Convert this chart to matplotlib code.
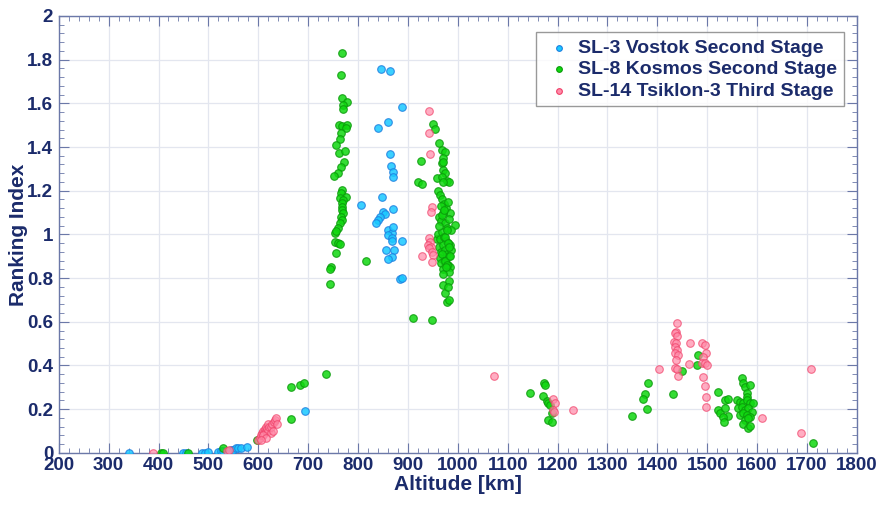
import numpy as np
import matplotlib.pyplot as plt
from matplotlib.ticker import MultipleLocator

# altitude [km], ranking index
vostok_alt = [340, 449, 455, 487, 493, 500, 519, 525, 530, 540, 545, 550, 555, 560, 565, 577, 693,
              846, 864, 888, 860, 840, 864, 866, 870, 870, 806, 848, 870, 850, 854, 844, 840, 836,
              860, 868, 860, 870, 868, 868, 888, 856, 872, 868, 860, 884, 888]
vostok_rank = [0.0, 0.0, 0.0, 0.0, 0.0, 0.005, 0.005, 0.01, 0.01, 0.01, 0.012, 0.015, 0.02, 0.02, 0.02, 0.025, 0.19,
               1.757, 1.748, 1.583, 1.515, 1.487, 1.368, 1.313, 1.287, 1.263, 1.135, 1.172, 1.117, 1.103, 1.094, 1.08, 1.066, 1.053,
               1.02, 1.007, 0.998, 1.034, 0.984, 0.97, 0.97, 0.929, 0.929, 0.897, 0.888, 0.796, 0.80]

kosmos_alt = [405, 409, 459, 529, 597, 665, 665, 683, 691, 735,
              767, 766, 767, 777, 769, 769, 761, 767, 777, 775, 765, 763, 755, 761, 773, 771, 765, 759, 751,
              767, 765, 775, 763, 769, 767, 767, 767, 769, 765, 767, 763, 759, 753, 755,
              753, 759, 763, 755, 745, 743, 743, 816,
              950, 954, 962, 968, 974, 926, 970, 968, 970, 970, 974, 958, 968, 978, 982, 970, 920, 928,
              994, 910, 948, 974, 978, 982, 970, 982, 980, 958,
              960, 964, 968, 972, 976, 980, 984, 962, 966, 970, 974, 978, 982, 986, 960, 964, 968, 972,
              976, 980, 984, 962, 966, 970, 974, 978, 982, 964, 968, 972, 976, 980, 984, 966, 970, 974,
              978, 982, 962, 968, 974, 980, 986, 966, 972, 978, 984, 970, 976, 982,
              1172, 1174, 1144, 1170, 1178, 1180, 1184, 1180, 1188, 1188,
              1349, 1379, 1375, 1371, 1381, 1431, 1449, 1481, 1479,
              1521, 1535, 1541, 1521, 1525, 1535, 1541, 1531, 1533,
              1570, 1572, 1576, 1586, 1580, 1580,
              1559, 1565, 1571, 1580, 1586, 1592, 1561, 1569, 1576, 1582, 1590, 1565, 1571, 1580, 1586,
              1576, 1582, 1571, 1582, 1586, 1712]
kosmos_rank = [0.0, 0.0, 0.0, 0.02, 0.06, 0.155, 0.30, 0.31, 0.32, 0.36,
               1.831, 1.73, 1.625, 1.606, 1.593, 1.574, 1.501, 1.497, 1.501, 1.487, 1.465, 1.437, 1.41, 1.373, 1.382, 1.332, 1.309, 1.281, 1.268,
               1.204, 1.19, 1.172, 1.167, 1.158, 1.144, 1.126, 1.112, 1.098, 1.08, 1.066, 1.053, 1.03, 1.007, 1.016,
               0.966, 0.961, 0.957, 0.915, 0.851, 0.842, 0.773, 0.879,
               1.506, 1.483, 1.419, 1.387, 1.378, 1.336, 1.35, 1.327, 1.332, 1.295, 1.281, 1.259, 1.263, 1.245, 1.24, 1.24, 1.24, 1.231,
               1.043, 0.618, 0.609, 0.732, 0.691, 0.70, 0.769, 0.787, 0.76, 0.979,
               1.20, 1.18, 1.16, 1.14, 1.12, 1.15, 1.10, 1.08, 1.06, 1.10, 1.05, 1.03, 1.07, 1.02, 1.00, 0.98, 1.01, 0.99,
               0.97, 0.96, 0.95, 0.94, 0.92, 0.95, 0.93, 0.91, 0.90, 0.89, 0.91, 0.88, 0.87, 0.86, 0.85, 0.87, 0.84, 0.88,
               0.86, 0.83, 1.04, 1.09, 0.99, 0.96, 0.93, 1.13, 1.11, 1.02, 0.90, 0.82, 0.85, 0.94,
               0.32, 0.311, 0.275, 0.261, 0.238, 0.229, 0.22, 0.151, 0.142, 0.183,
               0.169, 0.201, 0.27, 0.247, 0.32, 0.27, 0.375, 0.449, 0.403,
               0.279, 0.243, 0.247, 0.197, 0.183, 0.206, 0.169, 0.165, 0.142,
               0.343, 0.32, 0.302, 0.311, 0.275, 0.256,
               0.243, 0.233, 0.229, 0.243, 0.229, 0.229, 0.206, 0.211, 0.197, 0.206, 0.188, 0.174, 0.183, 0.174, 0.165,
               0.151, 0.160, 0.133, 0.114, 0.124, 0.046]

tsiklon_alt = [388, 537, 542,
               600, 603, 605, 608, 610, 612, 613, 615, 616, 618, 620, 620, 622, 625, 625, 628, 630, 632, 634, 636, 638, 610, 615, 605,
               942, 942, 944, 948, 946, 942, 944, 940, 946, 942, 948, 928, 950, 948, 1072,
               1191, 1195, 1191, 1193, 1231,
               1439, 1437, 1435, 1439, 1433, 1437, 1435, 1439, 1435, 1441, 1437, 1435, 1439,
               1403, 1465, 1441, 1463,
               1489, 1495, 1497, 1491, 1489, 1495, 1499, 1491, 1495, 1497, 1497,
               1610, 1688, 1708]
tsiklon_rank = [0.0, 0.01, 0.015,
                0.06, 0.07, 0.08, 0.09, 0.10, 0.09, 0.11, 0.10, 0.12, 0.11, 0.10, 0.13, 0.12, 0.09, 0.12, 0.13, 0.10, 0.14, 0.15, 0.16, 0.13, 0.08, 0.07, 0.06,
                1.565, 1.465, 1.368, 1.126, 1.103, 0.984, 0.966, 0.952, 0.943, 0.938, 0.92, 0.902, 0.906, 0.874, 0.35,
                0.247, 0.229, 0.197, 0.188, 0.197,
                0.595, 0.554, 0.549, 0.535, 0.508, 0.503, 0.485, 0.471, 0.458, 0.449, 0.426, 0.389, 0.384,
                0.384, 0.503, 0.352, 0.407,
                0.503, 0.494, 0.458, 0.439, 0.412, 0.412, 0.403, 0.348, 0.307, 0.256, 0.211,
                0.16, 0.092, 0.384]

navy = '#1b2b6b'
axcol = '#6b78a8'

plt.rcParams['font.family'] = ['Liberation Sans', 'DejaVu Sans']
plt.rcParams['font.weight'] = 'bold'

fig = plt.figure(figsize=(8.77, 5.14), dpi=100)
ax = fig.add_axes([0.067, 0.119, 0.91, 0.85])

ax.scatter(vostok_alt, vostok_rank, s=30, c='#19c8ff', edgecolors='#1e7fe0', linewidths=0.8,
           alpha=0.85, label='SL-3 Vostok Second Stage', zorder=3)
ax.scatter(kosmos_alt, kosmos_rank, s=30, c='#10d810', edgecolors='#0a9a0a', linewidths=0.8,
           alpha=0.85, label='SL-8 Kosmos Second Stage', zorder=3)
ax.scatter(tsiklon_alt, tsiklon_rank, s=30, c='#ff8aa8', edgecolors='#f04068', linewidths=0.8,
           alpha=0.7, label='SL-14 Tsiklon-3 Third Stage', zorder=3)

ax.set_xlim(200, 1800)
ax.set_ylim(0, 2)
ax.xaxis.set_major_locator(MultipleLocator(100))
ax.xaxis.set_minor_locator(MultipleLocator(20))
ax.yaxis.set_major_locator(MultipleLocator(0.2))
ax.yaxis.set_minor_locator(MultipleLocator(0.04))
ax.yaxis.set_major_formatter(plt.FuncFormatter(lambda v, p: ('%.1f' % v).rstrip('0').rstrip('.')))

ax.grid(True, which='major', color='#e3e6ef', linewidth=0.9, zorder=0)
ax.set_axisbelow(True)
for sp in ax.spines.values():
    sp.set_color(axcol)
    sp.set_linewidth(1.0)
ax.tick_params(which='both', direction='in', top=True, right=True, colors=axcol,
               labelcolor=navy, labelsize=13.5)
ax.tick_params(axis='x', pad=3)
ax.tick_params(axis='y', pad=4)
ax.tick_params(which='major', length=7)
ax.tick_params(which='minor', length=3.5)
for lb in ax.get_xticklabels() + ax.get_yticklabels():
    lb.set_fontweight('bold')

ax.set_xlabel('Altitude [km]', fontsize=15, fontweight='bold', color=navy, labelpad=1)
ax.set_ylabel('Ranking Index', fontsize=15, fontweight='bold', color=navy, labelpad=-1)

leg = ax.legend(loc='upper right', bbox_to_anchor=(0.996, 0.985), fontsize=14, frameon=True,
                fancybox=False, shadow=False, edgecolor='#808080', handletextpad=0.2,
                borderpad=0.35, labelspacing=0.2, markerscale=0.75, handlelength=1.6)
leg.get_frame().set_linewidth(1.0)
for t in leg.get_texts():
    t.set_color(navy)
    t.set_fontweight('bold')
for h in leg.legend_handles:
    h.set_alpha(1.0)

fig.savefig('out.png', dpi=100)
